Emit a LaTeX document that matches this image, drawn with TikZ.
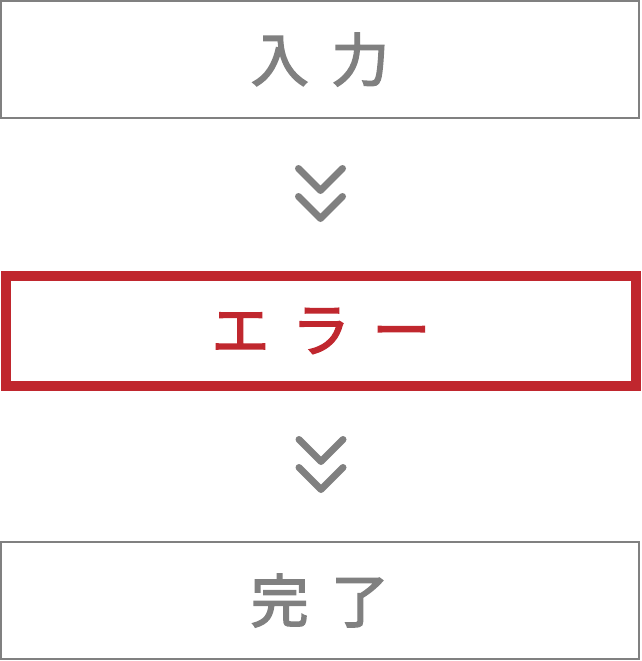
\documentclass[tikz,border=0pt]{standalone}
\usepackage{fontspec}
\newfontfamily\jp[FakeBold=2.5]{Noto Sans CJK JP}
\usetikzlibrary{calc}
\definecolor{gry}{RGB}{128,128,128}
\definecolor{errred}{RGB}{192,39,46}
\tikzset{
  plainbox/.style={draw=gry, line width=2pt, rectangle, inner sep=0pt,
    minimum width=638pt, minimum height=117pt, text=gry,
    font=\jp\fontsize{58pt}{58pt}\selectfont},
  errbox/.style={draw=errred, line width=10pt, rectangle, inner sep=0pt,
    minimum width=630pt, minimum height=110pt, text=errred,
    font=\jp\fontsize{58pt}{58pt}\selectfont},
  chevline/.style={draw=gry, line width=7pt, line cap=round, line join=round}
}
\newcommand{\gapsp}{\hspace{22.5pt}}
\begin{document}
\begin{tikzpicture}[x=1pt,y=-1pt]
\useasboundingbox (0,0) rectangle (641,661);
\node[plainbox] (inp) at (320,59.5) {入\gapsp 力};
\node[errbox] (err) at (321,331) {エ\gapsp ラ\gapsp ー};
\node[plainbox] (done) at (320,600.5) {完\gapsp 了};
\coordinate (c1) at (320.5,182.5);
\coordinate (c2) at (321,453.5);
\draw[chevline] ($(c1)+(-22,-14)$) -- ($(c1)+(0,8)$) -- ($(c1)+(22,-14)$);
\draw[chevline] ($(c1)+(-22,14)$) -- ($(c1)+(0,36)$) -- ($(c1)+(22,14)$);
\draw[chevline] ($(c2)+(-22,-14)$) -- ($(c2)+(0,8)$) -- ($(c2)+(22,-14)$);
\draw[chevline] ($(c2)+(-22,14)$) -- ($(c2)+(0,36)$) -- ($(c2)+(22,14)$);
\end{tikzpicture}
\end{document}
